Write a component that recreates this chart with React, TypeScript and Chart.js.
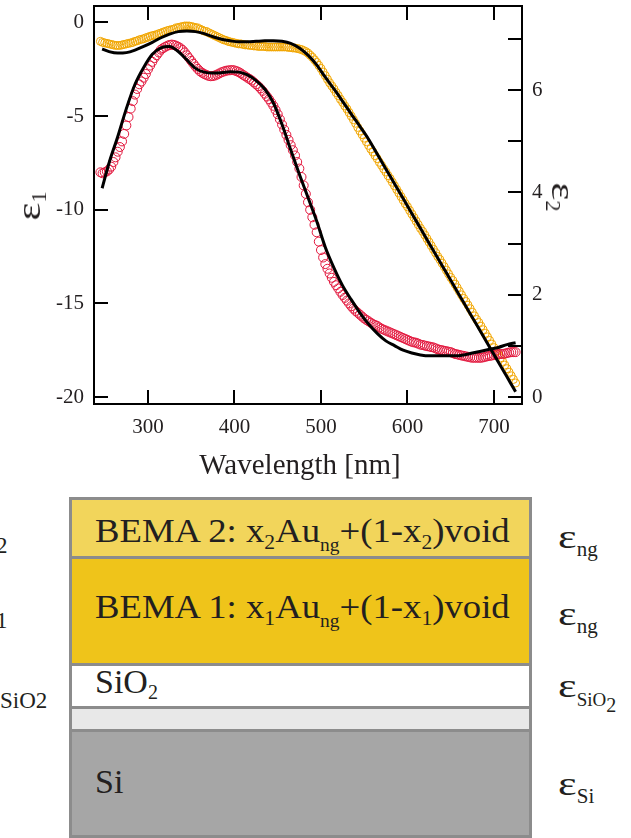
import React, { useEffect, useRef } from 'react';
import { Chart, registerables } from 'chart.js';

Chart.register(...registerables);

// ---------- data ----------
const WL_DATA = [
  245, 247.5, 250, 252.5, 255, 257.5, 260, 262.5, 265, 267.5, 270, 272.5, 275, 277.5, 280, 282.5, 285, 287.5, 290, 292.5,
  295, 297.5, 300, 302.5, 305, 307.5, 310, 312.5, 315, 317.5, 320, 322.5, 325, 327.5, 330, 332.5, 335, 337.5, 340, 342.5,
  345, 347.5, 350, 352.5, 355, 357.5, 360, 362.5, 365, 367.5, 370, 372.5, 375, 377.5, 380, 382.5, 385, 387.5, 390, 392.5,
  395, 397.5, 400, 402.5, 405, 407.5, 410, 412.5, 415, 417.5, 420, 422.5, 425, 427.5, 430, 432.5, 435, 437.5, 440, 442.5,
  445, 447.5, 450, 452.5, 455, 457.5, 460, 462.5, 465, 467.5, 470, 472.5, 475, 477.5, 480, 482.5, 485, 487.5, 490, 492.5,
  495, 497.5, 500, 502.5, 505, 507.5, 510, 512.5, 515, 517.5, 520, 522.5, 525, 527.5, 530, 532.5, 535, 537.5, 540, 542.5,
  545, 547.5, 550, 552.5, 555, 557.5, 560, 562.5, 565, 567.5, 570, 572.5, 575, 577.5, 580, 582.5, 585, 587.5, 590, 592.5,
  595, 597.5, 600, 602.5, 605, 607.5, 610, 612.5, 615, 617.5, 620, 622.5, 625, 627.5, 630, 632.5, 635, 637.5, 640, 642.5,
  645, 647.5, 650, 652.5, 655, 657.5, 660, 662.5, 665, 667.5, 670, 672.5, 675, 677.5, 680, 682.5, 685, 687.5, 690, 692.5,
  695, 697.5, 700, 702.5, 705, 707.5, 710, 712.5, 715, 717.5, 720, 722.5, 725,
];
const EPS1_DATA = [
  -8.0, -8.05, -8.0, -7.95, -7.85, -7.7, -7.45, -7.2, -6.9, -6.65, -6.35, -5.95, -5.5, -5.05, -4.6, -4.2, -3.85, -3.55, -3.3, -3.15,
  -2.95, -2.75, -2.5, -2.3, -2.1, -1.9, -1.75, -1.6, -1.45, -1.37, -1.3, -1.24, -1.2, -1.18, -1.2, -1.24, -1.3, -1.37, -1.47, -1.6,
  -1.75, -1.9, -2.05, -2.2, -2.35, -2.48, -2.6, -2.68, -2.75, -2.8, -2.85, -2.87, -2.86, -2.83, -2.78, -2.72, -2.66, -2.62, -2.58, -2.56,
  -2.55, -2.54, -2.56, -2.6, -2.65, -2.72, -2.8, -2.87, -2.95, -3.02, -3.1, -3.2, -3.3, -3.4, -3.52, -3.65, -3.8, -3.95, -4.1, -4.27,
  -4.45, -4.67, -4.9, -5.17, -5.45, -5.72, -6.0, -6.27, -6.55, -6.82, -7.1, -7.45, -7.8, -8.25, -8.7, -9.15, -9.6, -10.0, -10.4, -10.8,
  -11.2, -11.7, -12.15, -12.55, -12.9, -13.15, -13.4, -13.63, -13.85, -14.03, -14.2, -14.38, -14.55, -14.7, -14.85, -15.0, -15.15, -15.28, -15.4, -15.5,
  -15.6, -15.7, -15.8, -15.88, -15.95, -16.03, -16.1, -16.15, -16.2, -16.28, -16.35, -16.4, -16.45, -16.5, -16.55, -16.6, -16.65, -16.7, -16.75, -16.8,
  -16.85, -16.9, -16.95, -17.0, -17.05, -17.08, -17.1, -17.15, -17.2, -17.22, -17.25, -17.28, -17.3, -17.33, -17.35, -17.4, -17.45, -17.48, -17.5, -17.53,
  -17.55, -17.58, -17.6, -17.65, -17.7, -17.72, -17.75, -17.78, -17.8, -17.83, -17.85, -17.88, -17.9, -17.9, -17.9, -17.9, -17.9, -17.88, -17.85, -17.82,
  -17.8, -17.78, -17.75, -17.72, -17.7, -17.7, -17.7, -17.68, -17.65, -17.62, -17.6, -17.6, -17.6,
];
const EPS2_DATA = [
  6.95, 6.93, 6.92, 6.91, 6.9, 6.89, 6.88, 6.87, 6.87, 6.87, 6.88, 6.89, 6.9, 6.91, 6.92, 6.93, 6.95, 6.96, 6.98, 6.99,
  7.0, 7.02, 7.03, 7.05, 7.06, 7.07, 7.08, 7.1, 7.11, 7.13, 7.14, 7.16, 7.17, 7.18, 7.19, 7.21, 7.22, 7.23, 7.24, 7.25,
  7.25, 7.25, 7.24, 7.23, 7.22, 7.21, 7.19, 7.17, 7.15, 7.14, 7.12, 7.1, 7.08, 7.06, 7.04, 7.02, 7.0, 6.98, 6.97, 6.95,
  6.94, 6.93, 6.92, 6.91, 6.9, 6.9, 6.89, 6.88, 6.88, 6.87, 6.87, 6.86, 6.86, 6.85, 6.85, 6.85, 6.85, 6.84, 6.84, 6.84,
  6.84, 6.84, 6.84, 6.84, 6.84, 6.84, 6.84, 6.83, 6.83, 6.82, 6.82, 6.81, 6.8, 6.79, 6.77, 6.75, 6.72, 6.68, 6.64, 6.59,
  6.54, 6.48, 6.42, 6.35, 6.28, 6.21, 6.14, 6.08, 6.02, 5.95, 5.89, 5.82, 5.76, 5.69, 5.63, 5.56, 5.49, 5.42, 5.35, 5.27,
  5.2, 5.13, 5.06, 4.99, 4.92, 4.85, 4.79, 4.72, 4.66, 4.59, 4.53, 4.46, 4.4, 4.33, 4.27, 4.2, 4.13, 4.06, 3.99, 3.92,
  3.85, 3.78, 3.72, 3.65, 3.58, 3.51, 3.44, 3.37, 3.3, 3.24, 3.17, 3.1, 3.03, 2.96, 2.89, 2.82, 2.75, 2.69, 2.62, 2.55,
  2.48, 2.41, 2.34, 2.28, 2.21, 2.14, 2.07, 2.0, 1.93, 1.87, 1.8, 1.73, 1.66, 1.59, 1.52, 1.46, 1.39, 1.32, 1.25, 1.18,
  1.11, 1.04, 0.97, 0.9, 0.83, 0.77, 0.7, 0.63, 0.56, 0.49, 0.42, 0.35, 0.28,
];
const WL_FIT = [
  247, 255, 265, 275, 285, 295, 305, 315, 325, 335, 345, 355, 365, 375, 385, 395, 405, 415, 425, 435,
  445, 455, 465, 475, 485, 495, 505, 515, 525, 535, 545, 555, 565, 575, 585, 595, 605, 615, 625, 635,
  645, 655, 665, 675, 685, 695, 705, 715, 725,
];
const EPS1_FIT = [
  -8.85, -7.5, -6.1, -4.6, -3.3, -2.4, -1.7, -1.35, -1.28, -1.55, -2.0, -2.45, -2.65, -2.7, -2.68, -2.63, -2.65, -2.8, -3.1, -3.55,
  -4.3, -5.45, -6.8, -8.1, -9.35, -10.6, -12.0, -13.1, -14.05, -14.8, -15.5, -16.1, -16.6, -17.0, -17.25, -17.5, -17.65, -17.75, -17.8, -17.8,
  -17.8, -17.8, -17.75, -17.65, -17.55, -17.45, -17.35, -17.2, -17.1,
];
const EPS2_FIT = [
  6.8, 6.75, 6.72, 6.73, 6.78, 6.85, 6.93, 7.02, 7.09, 7.14, 7.15, 7.14, 7.1, 7.04, 6.99, 6.96, 6.94, 6.94, 6.95, 6.96,
  6.96, 6.95, 6.91, 6.82, 6.68, 6.49, 6.25, 6.02, 5.78, 5.53, 5.29, 5.04, 4.75, 4.46, 4.17, 3.88, 3.59, 3.3, 3.01, 2.72,
  2.43, 2.14, 1.85, 1.56, 1.27, 0.98, 0.69, 0.4, 0.11,
];

const X_TICKS = [300, 400, 500, 600, 700];
const Y1_TICKS = [-20, -15, -10, -5, 0];
const Y2_LABEL_TICKS = [0, 2, 4, 6];
const Y2_MINOR_TICKS = [0, 1, 2, 3, 4, 5, 6, 7];
const X_MIN = 237.6;
const X_MAX = 732.4;
const Y1_MIN = -20.37;
const Y1_MAX = 0.88;
const Y2_MIN = -0.13;
const Y2_MAX = 7.64;

// ---------- style ----------
const SERIF = "'Liberation Serif', 'Times New Roman', Times, serif";
const INK = '#231f20';
const RED = '#e2173d';
const ORANGE = '#f1a602';
const W = 631;
const H = 480;

const frameTicks = {
  id: 'frameTicks',
  afterDraw(chart: any) {
    const { ctx, chartArea: a, scales } = chart;
    const L = 14;
    ctx.save();
    ctx.strokeStyle = '#000';
    ctx.lineWidth = 2;
    ctx.strokeRect(a.left, a.top, a.right - a.left, a.bottom - a.top);
    ctx.beginPath();
    for (const v of X_TICKS) {
      const x = Math.round(scales.x.getPixelForValue(v));
      ctx.moveTo(x, a.bottom);
      ctx.lineTo(x, a.bottom - L);
      ctx.moveTo(x, a.top);
      ctx.lineTo(x, a.top + L);
    }
    for (const v of Y1_TICKS) {
      const y = Math.round(scales.y.getPixelForValue(v));
      ctx.moveTo(a.left, y);
      ctx.lineTo(a.left + L, y);
    }
    for (const v of Y2_MINOR_TICKS) {
      const y = Math.round(scales.y2.getPixelForValue(v));
      ctx.moveTo(a.right, y);
      ctx.lineTo(a.right - L, y);
    }
    ctx.stroke();
    ctx.restore();
  },
};

const zeroPad = (s: any) => {
  s.paddingTop = 0;
  s.paddingBottom = 0;
  s.paddingLeft = 0;
  s.paddingRight = 0;
};

function ChartPanel() {
  const ref = useRef<HTMLCanvasElement | null>(null);
  useEffect(() => {
    if (!ref.current) return;
    const tickFont = { family: SERIF, size: 21 };
    const chart = new Chart(ref.current, {
      type: 'scatter',
      data: {
        datasets: [
          {
            label: 'ε1 fit',
            data: WL_FIT.map((x, i) => ({ x, y: EPS1_FIT[i] })),
            yAxisID: 'y',
            showLine: true,
            borderColor: '#000',
            borderWidth: 3,
            pointRadius: 0,
            cubicInterpolationMode: 'monotone',
          },
          {
            label: 'ε2 fit',
            data: WL_FIT.map((x, i) => ({ x, y: EPS2_FIT[i] })),
            yAxisID: 'y2',
            showLine: true,
            borderColor: '#000',
            borderWidth: 3,
            pointRadius: 0,
            cubicInterpolationMode: 'monotone',
          },
          {
            label: 'ε1',
            data: WL_DATA.map((x, i) => ({ x, y: EPS1_DATA[i] })),
            yAxisID: 'y',
            showLine: false,
            pointStyle: 'circle',
            pointRadius: 4.5,
            pointBorderWidth: 1,
            pointBorderColor: RED,
            pointBackgroundColor: 'rgba(0,0,0,0)',
          },
          {
            label: 'ε2',
            data: WL_DATA.map((x, i) => ({ x, y: EPS2_DATA[i] })),
            yAxisID: 'y2',
            showLine: false,
            pointStyle: 'circle',
            pointRadius: 4,
            pointBorderWidth: 1,
            pointBorderColor: ORANGE,
            pointBackgroundColor: 'rgba(0,0,0,0)',
          },
        ],
      } as any,
      options: {
        animation: false,
        responsive: false,
        devicePixelRatio: 1,
        layout: { padding: { top: 6, left: 0, right: 0, bottom: 0 } },
        plugins: { legend: { display: false }, tooltip: { enabled: false } },
        scales: {
          x: {
            type: 'linear',
            position: 'bottom',
            min: X_MIN,
            max: X_MAX,
            grid: { display: false, drawTicks: false },
            border: { display: false },
            afterBuildTicks: (s: any) => {
              s.ticks = X_TICKS.map((value) => ({ value }));
            },
            afterFit: (s: any) => {
              s.height = H - 404;
              zeroPad(s);
            },
            ticks: {
              font: tickFont,
              color: INK,
              padding: 11,
              maxRotation: 0,
              autoSkip: false,
              callback: (v: any) => String(v),
            },
          },
          y: {
            type: 'linear',
            position: 'left',
            min: Y1_MIN,
            max: Y1_MAX,
            grid: { display: false, drawTicks: false },
            border: { display: false },
            afterBuildTicks: (s: any) => {
              s.ticks = Y1_TICKS.map((value) => ({ value }));
            },
            afterFit: (s: any) => {
              s.width = 94;
              zeroPad(s);
            },
            ticks: {
              font: tickFont,
              color: INK,
              padding: 10,
              autoSkip: false,
              callback: (v: any) => String(v),
            },
          },
          y2: {
            type: 'linear',
            position: 'right',
            min: Y2_MIN,
            max: Y2_MAX,
            grid: { display: false, drawTicks: false },
            border: { display: false },
            afterBuildTicks: (s: any) => {
              s.ticks = Y2_LABEL_TICKS.map((value) => ({ value }));
            },
            afterFit: (s: any) => {
              s.width = W - 522;
              zeroPad(s);
            },
            ticks: {
              font: tickFont,
              color: INK,
              padding: 10,
              autoSkip: false,
              callback: (v: any) => String(v),
            },
          },
        },
      } as any,
      plugins: [frameTicks],
    });
    return () => chart.destroy();
  }, []);
  return (
    <canvas
      ref={ref}
      width={W}
      height={H}
      style={{ position: 'absolute', left: 0, top: 0, width: W, height: H }}
    />
  );
}

function Txt({ x, base, size, children, center, sx }: any) {
  const style: React.CSSProperties = {
    position: 'absolute',
    left: x,
    top: base - 0.8375 * size,
    fontSize: size,
    lineHeight: 1,
    fontFamily: SERIF,
    color: INK,
    whiteSpace: 'nowrap',
  };
  if (center) style.transform = 'translateX(-50%)';
  if (sx) {
    style.transform = `scaleX(${sx})`;
    style.transformOrigin = 'left center';
  }
  return <div style={style}>{children}</div>;
}

function Sub({ size, drop, children }: any) {
  return <span style={{ fontSize: size, verticalAlign: -drop, lineHeight: 1 }}>{children}</span>;
}

function Eps({ size, sx }: any) {
  return (
    <span
      style={{
        display: 'inline-block',
        fontSize: size,
        lineHeight: 1,
        transform: `scaleX(${sx})`,
        transformOrigin: 'left center',
        marginRight: 0.44 * size * (sx - 1),
      }}
    >
      ε
    </span>
  );
}

function Rot({ cx, cy, deg, children }: any) {
  return (
    <div
      style={{
        position: 'absolute',
        left: cx,
        top: cy,
        transform: `translate(-50%, -50%) rotate(${deg}deg)`,
        fontFamily: SERIF,
        fontSize: 34,
        lineHeight: 1,
        color: INK,
        whiteSpace: 'nowrap',
      }}
    >
      {children}
    </div>
  );
}

function Rect({ x0, y0, x1, y1, fill }: any) {
  return (
    <div style={{ position: 'absolute', left: x0, top: y0, width: x1 - x0, height: y1 - y0, background: fill }} />
  );
}

function Layers() {
  const L = 69;
  const R = 532;
  const B = 3;
  return (
    <>
      <Rect x0={L} y0={497} x1={R} y1={838} fill="#8c8c8c" />
      <Rect x0={L + B} y0={500} x1={R - B} y1={556} fill="#f2d55b" />
      <Rect x0={L + B} y0={559} x1={R - B} y1={663} fill="#efc41a" />
      <Rect x0={L + B} y0={666} x1={R - B} y1={706} fill="#ffffff" />
      <Rect x0={L + B} y0={709} x1={R - B} y1={729} fill="#e8e8e8" />
      <Rect x0={L + B} y0={732} x1={R - B} y1={835} fill="#a6a6a6" />

      <Txt x={95} base={542} size={34} sx={1.08}>
        BEMA 2: x<Sub size={20} drop={7}>2</Sub>Au<Sub size={18} drop={9}>ng</Sub>+(1-x
        <Sub size={20} drop={7}>2</Sub>)void
      </Txt>
      <Txt x={95} base={618} size={34} sx={1.08}>
        BEMA 1: x<Sub size={20} drop={7}>1</Sub>Au<Sub size={18} drop={9}>ng</Sub>+(1-x
        <Sub size={20} drop={7}>1</Sub>)void
      </Txt>
      <Txt x={95} base={693} size={34}>
        SiO<Sub size={20} drop={6}>2</Sub>
      </Txt>
      <Txt x={95} base={793} size={34}>
        Si
      </Txt>

      <Txt x={558} base={548} size={34}>
        <Eps size={34} sx={1.3} />
        <Sub size={21} drop={8}>ng</Sub>
      </Txt>
      <Txt x={558} base={625} size={34}>
        <Eps size={34} sx={1.3} />
        <Sub size={21} drop={8}>ng</Sub>
      </Txt>
      <Txt x={558} base={697} size={34}>
        <Eps size={34} sx={1.3} />
        <Sub size={19} drop={9}>
          SiO<Sub size={20} drop={6}>2</Sub>
        </Sub>
      </Txt>
      <Txt x={558} base={795} size={34}>
        <Eps size={34} sx={1.3} />
        <Sub size={21} drop={8}>Si</Sub>
      </Txt>

      <Txt x={-4} base={553} size={23}>
        2
      </Txt>
      <Txt x={-4} base={628} size={23}>
        1
      </Txt>
      <Txt x={0} base={708} size={23}>
        SiO2
      </Txt>
    </>
  );
}

export default function App() {
  return (
    <div
      style={{
        position: 'absolute',
        left: 0,
        top: 0,
        width: W,
        height: 838,
        overflow: 'hidden',
        background: '#fff',
      }}
    >
      <ChartPanel />
      <Rot cx={31} cy={206} deg={-90}>
        <Eps size={34} sx={1.25} />
        <Sub size={22} drop={6}>1</Sub>
      </Rot>
      <Rot cx={561} cy={197} deg={90}>
        <Eps size={34} sx={1.25} />
        <Sub size={22} drop={6}>2</Sub>
      </Rot>
      <Txt x={300} base={474} size={29} center>
        Wavelength [nm]
      </Txt>
      <Layers />
    </div>
  );
}
